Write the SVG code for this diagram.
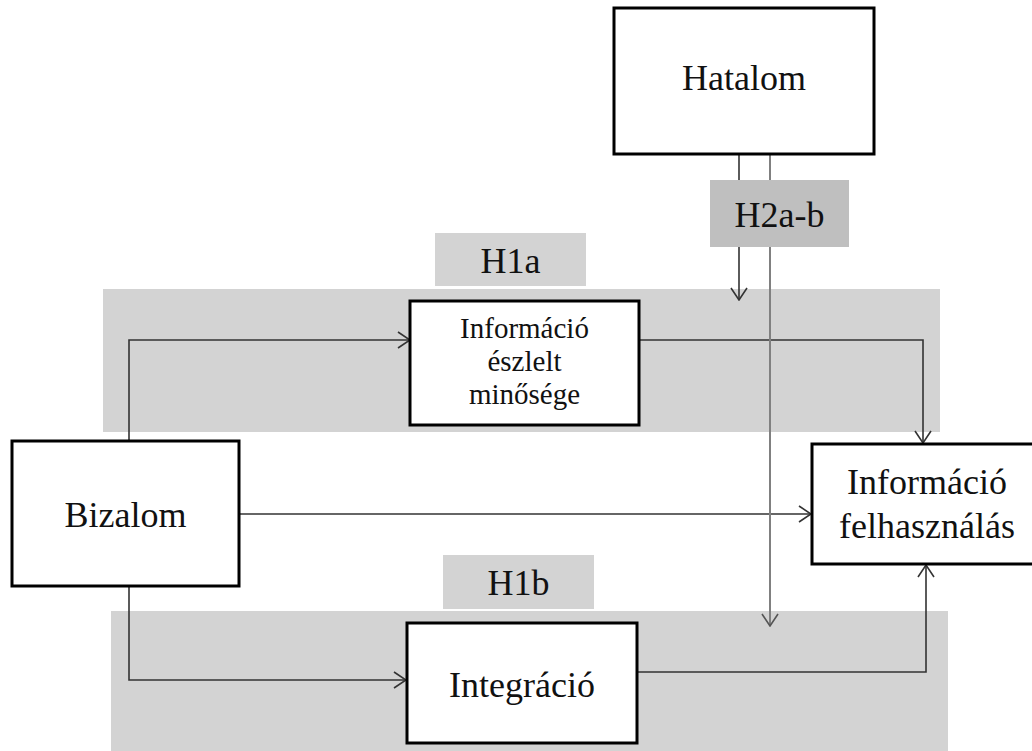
<svg xmlns="http://www.w3.org/2000/svg" width="1032" height="751" viewBox="0 0 1032 751">
<style>
.band{fill:#d3d3d3}
.lbl{fill:#d3d3d3}
.lbl2{fill:#bfbfbf}
.box{fill:#fff;stroke:#000;stroke-width:3}
.t{fill:#111;text-anchor:middle}
.big{font-size:36px}
.mid{font-size:29px}
.c{fill:none;stroke:#333;stroke-width:1.6}
.cg{fill:none;stroke:#808080;stroke-width:2}
</style>
<defs>
<marker id="ah" markerWidth="14" markerHeight="18" refX="13" refY="9" orient="auto" markerUnits="userSpaceOnUse">
<path d="M1,1 L13,9 L1,17" fill="none" stroke="#333" stroke-width="1.6"/>
</marker>
<marker id="ahg" markerWidth="14" markerHeight="18" refX="13" refY="9" orient="auto" markerUnits="userSpaceOnUse">
<path d="M1,1 L13,9 L1,17" fill="none" stroke="#555" stroke-width="1.6"/>
</marker>
</defs>
<g id="bands">
<rect class="band" x="103" y="289" width="837" height="143"/>
<rect class="band" x="111" y="611" width="837" height="140"/>
</g>
<g id="connectors">
<polyline class="c" points="129,441 129,340 410,340" marker-end="url(#ah)"/>
<polyline class="c" points="639,340 923,340 923,443" marker-end="url(#ah)"/>
<line class="c" x1="239" y1="514" x2="811" y2="514" marker-end="url(#ah)"/>
<polyline class="c" points="129,586 129,680 406,680" marker-end="url(#ah)"/>
<polyline class="c" points="637,672 926,672 926,565" marker-end="url(#ah)"/>
<line class="c" x1="739" y1="154" x2="739" y2="300" marker-end="url(#ah)"/>
<line class="cg" x1="770" y1="154" x2="770" y2="626" marker-end="url(#ahg)"/>
</g>
<g font-family="'Liberation Serif', serif">
<g id="label-H2ab">
<rect class="lbl2" x="710" y="180" width="139" height="67"/>
<text class="t big" x="779.5" y="227">H2a-b</text>
</g>
<g id="label-H1a">
<rect class="lbl" x="435" y="233" width="151" height="53"/>
<text class="t big" x="510.5" y="273">H1a</text>
</g>
<g id="label-H1b">
<rect class="lbl" x="443" y="555" width="151" height="54"/>
<text class="t big" x="518.5" y="595">H1b</text>
</g>
<g id="node-hatalom">
<rect class="box" x="614" y="8" width="260" height="146"/>
<text class="t big" x="744" y="90">Hatalom</text>
</g>
<g id="node-bizalom">
<rect class="box" x="12" y="441" width="227" height="145"/>
<text class="t big" x="125.5" y="527">Bizalom</text>
</g>
<g id="node-info-minoseg">
<rect class="box" x="410" y="301" width="229" height="124"/>
<text class="t mid" x="524.5" y="338">Információ</text>
<text class="t mid" x="524.5" y="371">észlelt</text>
<text class="t mid" x="524.5" y="404">minősége</text>
</g>
<g id="node-integracio">
<rect class="box" x="407" y="623" width="230" height="120"/>
<text class="t big" x="522" y="697">Integráció</text>
</g>
<g id="node-info-felhasznalas">
<rect class="box" x="812" y="444" width="230" height="120"/>
<text class="t big" x="927" y="494">Információ</text>
<text class="t big" x="927" y="538">felhasználás</text>
</g>
</g>
</svg>
